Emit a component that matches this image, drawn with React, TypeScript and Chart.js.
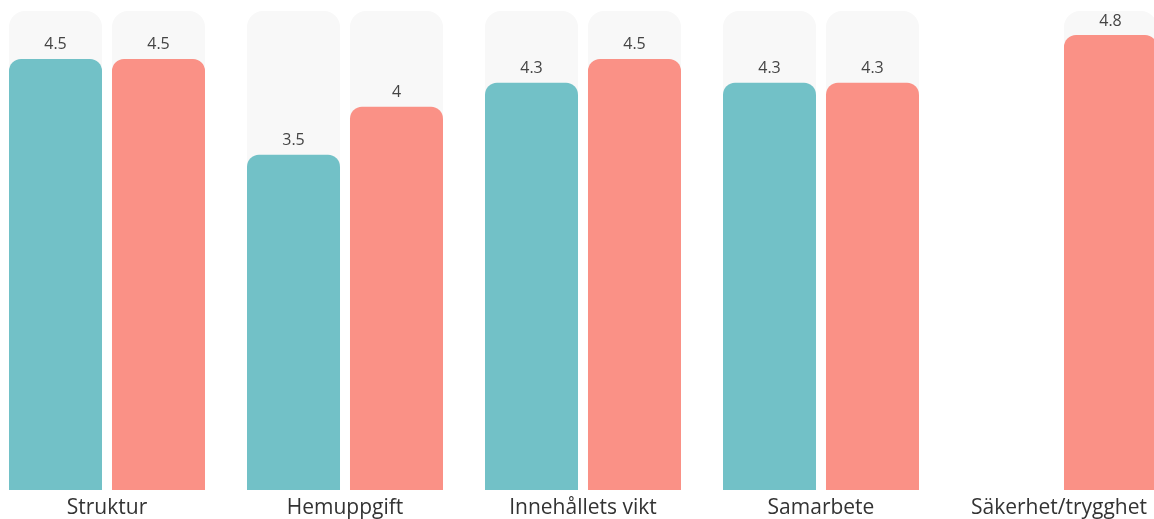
import React, { useEffect, useRef } from "react";
import { Chart, registerables } from "chart.js";

Chart.register(...registerables);

const categories = ["Struktur", "Hemuppgift", "Innehållets vikt", "Samarbete", "Säkerhet/trygghet"];
const seriesA = [4.5, 3.5, 4.25, 4.25, null];
const seriesB = [4.5, 4.0, 4.5, 4.25, 4.75];
const maxScore = 5;
const backgroundA = seriesA.map((v) => (v === null ? null : maxScore));
const backgroundB = seriesB.map((v) => (v === null ? null : maxScore));

const TEAL = "rgb(114,193,199)";
const SALMON = "rgb(250,145,134)";
const BG = "rgb(248,248,248)";

const valueLabels = {
  id: "valueLabels",
  afterDatasetsDraw(chart: any) {
    const ctx = chart.ctx;
    ctx.save();
    ctx.font = "16px 'Open Sans'";
    ctx.fillStyle = "#444";
    ctx.textAlign = "center";
    ctx.textBaseline = "bottom";
    chart.data.datasets.forEach((ds: any, i: number) => {
      if (ds.isBackground) return;
      const meta = chart.getDatasetMeta(i);
      meta.data.forEach((el: any, j: number) => {
        const v = ds.data[j];
        if (v === null || v === undefined) return;
        ctx.fillText((Math.round(v * 10) / 10).toString(), el.x, el.y - 6);
      });
    });
    ctx.restore();
  },
};

export default function App() {
  const ref = useRef<HTMLCanvasElement>(null);
  useEffect(() => {
    document.body.style.margin = "0";
    document.body.style.overflow = "hidden";
    const common = { categoryPercentage: 0.8655, barPercentage: 0.903, borderSkipped: "bottom" };
    const chart = new Chart(ref.current!, {
      type: "bar",
      data: {
        labels: categories,
        datasets: [
          { label: "A", data: seriesA, backgroundColor: TEAL, borderRadius: { topLeft: 12, topRight: 12 }, stack: "a", order: 1, ...common },
          { label: "B", data: seriesB, backgroundColor: SALMON, borderRadius: { topLeft: 12, topRight: 12 }, stack: "b", order: 1, ...common },
          { label: "bgA", isBackground: true, data: backgroundA, backgroundColor: BG, borderRadius: { topLeft: 16, topRight: 16 }, stack: "a", order: 2, ...common },
          { label: "bgB", isBackground: true, data: backgroundB, backgroundColor: BG, borderRadius: { topLeft: 16, topRight: 16 }, stack: "b", order: 2, ...common },
        ] as any,
      },
      options: {
        animation: false,
        responsive: true,
        maintainAspectRatio: false,
        layout: { padding: { top: 11, left: 0, right: 0, bottom: 0 } },
        plugins: { legend: { display: false }, tooltip: { enabled: false } },
        scales: {
          x: {
            stacked: true,
            grid: { display: false, drawTicks: false },
            border: { display: false },
            ticks: { font: { size: 21, family: "'Open Sans'", lineHeight: 0.95 }, color: "#333", padding: 8 },
          },
          y: { display: false, stacked: false, min: 0, max: maxScore, beginAtZero: true },
        },
      } as any,
      plugins: [valueLabels],
    });
    return () => chart.destroy();
  }, []);
  return (
    <div style={{ position: "fixed", left: 0, top: 0, width: 1154, height: 519, overflow: "hidden", background: "#fff" }}>
      <div style={{ position: "absolute", left: -12, top: 0, width: 1190, height: 526 }}>
        <canvas ref={ref} />
      </div>
    </div>
  );
}
